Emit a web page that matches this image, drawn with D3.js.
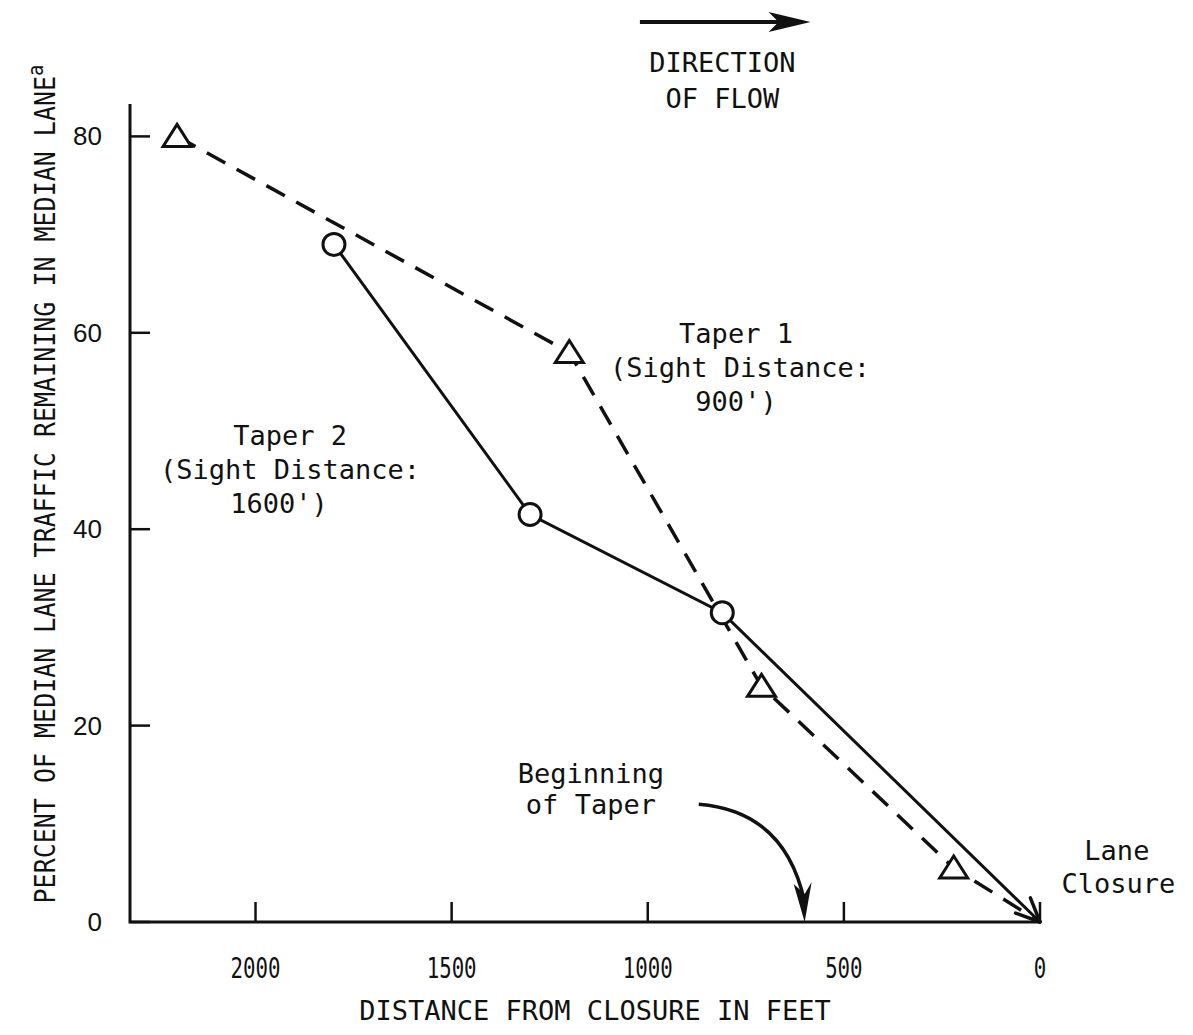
<!DOCTYPE html>
<html>
<head>
<meta charset="utf-8">
<script src="https://cdn.jsdelivr.net/npm/d3@7"></script>
<style>
  body { margin: 0; background: #fff; }
  svg { display: block; }
</style>
</head>
<body>
<svg id="chart"></svg>
<script>
'use strict';

const WIDTH = 1193;
const HEIGHT = 1035;

// Taper 1 (sight distance 900') - triangles, dashed
const taper1Dist = [2200, 1200, 710, 220];
const taper1Pct = [80, 58, 24, 5.5];

// Taper 2 (sight distance 1600') - circles, solid
const taper2Dist = [1800, 1300, 810];
const taper2Pct = [69, 41.5, 31.5];

// both curves end at the lane closure
const closurePoint = { dist: 0, pct: 0 };

const xTicks = [2000, 1500, 1000, 500, 0];
const yTicks = [0, 20, 40, 60, 80];

const MONO = '"DejaVu Sans Mono", "Liberation Mono", monospace';
const SANS = '"Liberation Sans", Arial, sans-serif';
const INK = '#111';

const x = d3.scaleLinear().domain([2320, 0]).range([130, 1040]);
const y = d3.scaleLinear().domain([0, 83.3]).range([922, 104]);

const svg = d3.select('#chart')
  .attr('width', WIDTH)
  .attr('height', HEIGHT)
  .attr('viewBox', `0 0 ${WIDTH} ${HEIGHT}`);

svg.append('rect').attr('width', WIDTH).attr('height', HEIGHT).attr('fill', '#fff');

// axes
const axisG = svg.append('g').attr('stroke', INK).attr('stroke-width', 3).attr('fill', 'none');
axisG.append('path')
  .attr('d', `M${x.range()[0]},${y.range()[1]} V${y(0)} H${x(0)}`);

xTicks.forEach(t => {
  axisG.append('line')
    .attr('x1', x(t)).attr('x2', x(t))
    .attr('y1', y(0)).attr('y2', y(0) - 20)
    .attr('stroke-width', 2.5);
});
yTicks.forEach(t => {
  axisG.append('line')
    .attr('x1', x.range()[0]).attr('x2', x.range()[0] + 20)
    .attr('y1', y(t)).attr('y2', y(t))
    .attr('stroke-width', 2.5);
});

// tick labels
svg.append('g').selectAll('text').data(xTicks).join('text')
  .attr('x', d => x(d)).attr('y', y(0) + 56)
  .attr('text-anchor', 'middle')
  .attr('font-family', MONO).attr('font-size', 28)
  .attr('textLength', d => String(d).length * 12.5)
  .attr('lengthAdjust', 'spacingAndGlyphs')
  .attr('fill', INK)
  .text(d => d);

svg.append('g').selectAll('text').data(yTicks).join('text')
  .attr('x', 102).attr('y', d => y(d) + 9)
  .attr('text-anchor', 'end')
  .attr('font-family', SANS).attr('font-size', 26)
  .attr('fill', INK)
  .text(d => d);

// axis titles
svg.append('text')
  .attr('x', (x(2320) + x(0)) / 2 + 10).attr('y', 1020)
  .attr('text-anchor', 'middle')
  .attr('font-family', MONO).attr('font-size', 27)
  .attr('fill', INK)
  .text('DISTANCE FROM CLOSURE IN FEET');

const yTitle = svg.append('text')
  .attr('transform', 'translate(55,484) rotate(-90) scale(1,1.12)')
  .attr('text-anchor', 'middle')
  .attr('font-family', MONO).attr('font-size', 25)
  .attr('fill', INK);
yTitle.append('tspan')
  .text('PERCENT OF MEDIAN LANE TRAFFIC REMAINING IN MEDIAN LANE');
yTitle.append('tspan').attr('dy', -11).attr('font-size', 19).text('a');

// lines
const line = d3.line().x(d => x(d.dist)).y(d => y(d.pct));
const t1 = taper1Dist.map((d, i) => ({ dist: d, pct: taper1Pct[i] })).concat([closurePoint]);
const t2 = taper2Dist.map((d, i) => ({ dist: d, pct: taper2Pct[i] })).concat([closurePoint]);

svg.append('path').datum(t1)
  .attr('d', line).attr('fill', 'none')
  .attr('stroke', INK).attr('stroke-width', 3.5)
  .attr('stroke-dasharray', '21 13');

svg.append('path').datum(t2)
  .attr('d', line).attr('fill', 'none')
  .attr('stroke', INK).attr('stroke-width', 3);

// arrowhead where the curves meet the closure
{
  const last = t2[t2.length - 2];
  const tipX = x(closurePoint.dist), tipY = y(closurePoint.pct);
  const ang = Math.atan2(y(last.pct) - tipY, x(last.dist) - tipX);
  const len = 26;
  [-0.42, 0.42].forEach(a => {
    svg.append('line')
      .attr('x1', tipX).attr('y1', tipY)
      .attr('x2', tipX + len * Math.cos(ang + a))
      .attr('y2', tipY + len * Math.sin(ang + a))
      .attr('stroke', INK).attr('stroke-width', 3.5).attr('stroke-linecap', 'round');
  });
}

// markers
svg.append('g').selectAll('path').data(t1.slice(0, -1)).join('path')
  .attr('transform', d => `translate(${x(d.dist)},${y(d.pct)})`)
  .attr('d', 'M0,-12 L14,10 L-14,10 Z')
  .attr('fill', '#fff').attr('stroke', INK).attr('stroke-width', 3)
  .attr('stroke-linejoin', 'miter');

svg.append('g').selectAll('circle').data(t2.slice(0, -1)).join('circle')
  .attr('cx', d => x(d.dist)).attr('cy', d => y(d.pct)).attr('r', 11)
  .attr('fill', '#fff').attr('stroke', INK).attr('stroke-width', 3);

// annotations
function label(lines, cx, baseline, step) {
  lines.forEach((txt, i) => {
    svg.append('text')
      .attr('x', cx[i]).attr('y', baseline + i * step)
      .attr('text-anchor', 'middle')
      .attr('font-family', MONO).attr('font-size', 27)
      .attr('fill', INK)
      .text(txt);
  });
}

label(['Taper 1', '(Sight Distance:', "900')"], [x(775), x(765), x(775)], y(59), 34);
label(['Taper 2', '(Sight Distance:', "1600')"], [x(1912), x(1912), x(1940)], y(48.6), 34);
label(['Beginning', 'of Taper'], [x(1145), x(1145)], y(14.2), 31);
label(['Lane', 'Closure'], [x(-196), x(-200)], y(6.3), 33);
label(['DIRECTION', 'OF FLOW'], [x(810), x(810)], 72, 36);

// "beginning of taper" curved arrow
{
  const sx = x(870), sy = y(12);
  const cx = x(650), cy = y(11.3);
  const tx = x(600), ty = y(0);
  svg.append('path')
    .attr('d', `M${sx},${sy} Q${cx},${cy} ${tx},${ty - 20}`)
    .attr('fill', 'none').attr('stroke', INK).attr('stroke-width', 3.5);
  svg.append('path')
    .attr('d', `M${tx},${ty} L${tx - 11},${ty - 38} L${tx},${ty - 28} L${tx + 7},${ty - 40} Z`)
    .attr('fill', INK);
}

// direction of flow arrow
{
  const y0 = 22, x0 = x(1020), x1 = x(585);
  svg.append('line')
    .attr('x1', x0).attr('x2', x1 - 20).attr('y1', y0).attr('y2', y0)
    .attr('stroke', INK).attr('stroke-width', 4);
  svg.append('path')
    .attr('d', `M${x1},${y0} L${x1 - 42},${y0 - 10} L${x1 - 32},${y0} L${x1 - 42},${y0 + 10} Z`)
    .attr('fill', INK);
}
</script>
</body>
</html>
